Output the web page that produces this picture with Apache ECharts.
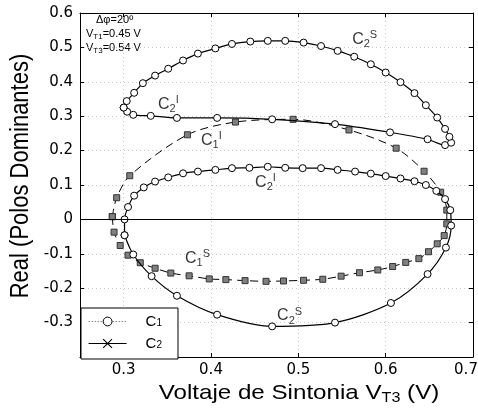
<!DOCTYPE html>
<html>
<head>
<meta charset="utf-8">
<script src="https://cdn.jsdelivr.net/npm/echarts@6/dist/echarts.min.js"></script>
<style>html,body{margin:0;padding:0;background:#fff}#c{width:478px;height:409px}</style>
</head>
<body>
<div id="c"></div>
<script>
// ---- data ----
// C2 upper loop (C2^I flat branch, then C2^S arc)
const c2UpperX = [0.300,0.304,0.311,0.331,0.361,0.407,0.470,0.542,0.605,0.648,0.668,0.675,0.673,0.668,0.659,0.646,0.633,0.617,0.600,0.583,0.564,0.545,0.526,0.506,0.485,0.465,0.445,0.424,0.405,0.385,0.368,0.351,0.336,0.322,0.312,0.3035,0.300];
const c2UpperY = [0.325,0.313,0.304,0.301,0.295,0.295,0.291,0.277,0.253,0.233,0.216,0.223,0.240,0.263,0.296,0.332,0.367,0.399,0.427,0.451,0.473,0.490,0.504,0.514,0.519,0.519,0.517,0.510,0.497,0.482,0.462,0.438,0.418,0.396,0.368,0.344,0.325];
// C2 lower loop (C2^I arc, then C2^S arc)
const c2LowerX = [0.301,0.301,0.305,0.312,0.323,0.336,0.351,0.368,0.385,0.405,0.424,0.444,0.465,0.485,0.505,0.526,0.545,0.565,0.583,0.600,0.617,0.633,0.646,0.658,0.668,0.674,0.675,0.669,0.648,0.606,0.542,0.470,0.407,0.361,0.332,0.311,0.301];
const c2LowerY = [-0.046,0.000,0.036,0.069,0.093,0.110,0.122,0.134,0.139,0.144,0.149,0.150,0.153,0.150,0.149,0.149,0.144,0.139,0.133,0.126,0.119,0.111,0.100,0.083,0.059,0.027,-0.018,-0.082,-0.159,-0.243,-0.300,-0.311,-0.277,-0.222,-0.165,-0.102,-0.046];
// C1 loop (C1^I upper branch, then C1^S lower branch)
const c1X = [0.287,0.292,0.307,0.373,0.428,0.494,0.558,0.612,0.644,0.663,0.670,0.670,0.667,0.659,0.649,0.638,0.623,0.608,0.591,0.570,0.549,0.528,0.506,0.483,0.463,0.439,0.417,0.398,0.375,0.354,0.336,0.319,0.305,0.296,0.289,0.287];
const c1Y = [0.008,0.063,0.127,0.246,0.283,0.291,0.260,0.207,0.140,0.079,0.027,-0.013,-0.047,-0.071,-0.094,-0.114,-0.125,-0.137,-0.147,-0.155,-0.165,-0.174,-0.177,-0.179,-0.180,-0.178,-0.175,-0.173,-0.164,-0.156,-0.142,-0.126,-0.104,-0.076,-0.037,0.008];
// tick labels
const xTicks = [0.3,0.4,0.5,0.6,0.7];
const legendNames = ['C1','C2'];
// curve annotations: [x, y, base, sub, sup]
const annoText = [
  [0.5616, 0.524, 'C','2','S'],
  [0.3393, 0.335, 'C','2','I'],
  [0.3886, 0.228, 'C','1','I'],
  [0.4505, 0.106, 'C','2','I'],
  [0.3703, -0.115, 'C','1','S'],
  [0.4757, -0.281, 'C','2','S']
];

const FONT = 'Liberation Sans, Arial, Helvetica, sans-serif';
const TICKFONT = 'DejaVu Sans, Verdana, sans-serif';
const zip = (xs, ys) => xs.map((x, i) => [x, ys[i]]);

const chart = echarts.init(document.getElementById('c'), null, {renderer: 'canvas'});

const circleStyle = {color:'#fff', borderColor:'#000', borderWidth:1};
const squareStyle = {color:'#808080', borderColor:'#333', borderWidth:1};

const annoRich = {
  c: {fontSize:16, lineHeight:20, fontFamily:FONT, color:'#000'},
  sub: {fontSize:11, lineHeight:11, verticalAlign:'bottom', fontFamily:FONT, color:'#000'},
  sup: {fontSize:11, lineHeight:11, verticalAlign:'top', fontFamily:FONT, color:'#000'}
};

const option = {
  animation: false,
  backgroundColor: '#fff',
  grid: {left:80, right:5, top:13, bottom:52, containLabel:false, outerBoundsMode:'none'},
  xAxis: [{
    type:'value', min:0.25, max:0.7, position:'bottom',
    axisLine:{show:true, onZero:false, lineStyle:{color:'#000', width:1}},
    axisTick:{show:true, inside:true, length:4, customValues:xTicks, lineStyle:{color:'#000'}},
    axisLabel:{show:true, customValues:xTicks, color:'#000', fontSize:15, fontFamily:TICKFONT, margin:6,
      formatter: v => Math.abs(v - 0.7) < 1e-9 ? '{r|0.7}' : v.toFixed(1),
      rich:{r:{fontSize:15, fontFamily:TICKFONT, color:'#000', padding:[0,14,0,0]}}},
    splitLine:{show:true, lineStyle:{color:'#c8c8c8', type:[1,3], width:1}}
  },{
    type:'value', min:0.25, max:0.7, position:'top',
    axisLine:{show:true, onZero:false, lineStyle:{color:'#000', width:1}},
    axisTick:{show:true, inside:true, length:4, customValues:xTicks, lineStyle:{color:'#000'}},
    axisLabel:{show:false}, splitLine:{show:false}
  }],
  yAxis: [{
    type:'value', min:-0.4, max:0.6, interval:0.1, position:'left',
    axisLine:{show:true, onZero:false, lineStyle:{color:'#000', width:1}},
    axisTick:{show:true, inside:true, length:4, lineStyle:{color:'#000'}},
    axisLabel:{color:'#000', fontSize:15, fontFamily:TICKFONT, margin:7,
      formatter: v => Math.abs(v + 0.4) < 1e-9 ? '' : (Math.abs(v) < 1e-9 ? '0' : v.toFixed(1))},
    splitLine:{show:true, lineStyle:{color:'#c8c8c8', type:[1,3], width:1}}
  },{
    type:'value', min:-0.4, max:0.6, interval:0.1, position:'right',
    axisLine:{show:true, onZero:false, lineStyle:{color:'#000', width:1}},
    axisTick:{show:true, inside:true, length:4, lineStyle:{color:'#000'}},
    axisLabel:{show:false}, splitLine:{show:false}
  }],
  legend: {
    left:81, top:308, orient:'vertical', selectedMode:false,
    backgroundColor:'#fff', borderColor:'#000', borderWidth:1,
    padding:[6,16,8,7], itemGap:7, itemWidth:38, itemHeight:11,
    data: [
      {name:legendNames[0], itemStyle:{color:'#fff', borderColor:'#000', borderWidth:1},
       lineStyle:{color:'#888', type:[1.5,1.5], width:1.2}},
      {name:legendNames[1], itemStyle:{color:'none', borderColor:'#000', borderWidth:1.1},
       lineStyle:{color:'#000', type:'solid', width:1}}
    ],
    formatter: n => '{c|C}{s|' + n.slice(1) + '}',
    textStyle:{rich:{
      c:{fontSize:15, fontFamily:FONT, color:'#000', lineHeight:14, padding:[0,0,0,14]},
      s:{fontSize:10, fontFamily:FONT, color:'#000', lineHeight:10, verticalAlign:'bottom'}
    }}
  },
  graphic: [
    {type:'text', left:96, top:14, style:{text:'\u0394\u03c6=20\u00ba', font:'11px ' + FONT, fill:'#000'}},
    {type:'text', left:86, top:28, style:{text:'{a|V}{b|T1}{a|=0.45 V}', rich:{
      a:{fontSize:11, fontFamily:FONT, fill:'#000', lineHeight:14},
      b:{fontSize:8, fontFamily:FONT, fill:'#000', lineHeight:8, verticalAlign:'bottom'}}}},
    {type:'text', left:86, top:42, style:{text:'{a|V}{b|T3}{a|=0.54 V}', rich:{
      a:{fontSize:11, fontFamily:FONT, fill:'#000', lineHeight:14},
      b:{fontSize:8, fontFamily:FONT, fill:'#000', lineHeight:8, verticalAlign:'bottom'}}}},
    // x axis title
    {type:'text', x:299, y:393, scaleX:1.15, style:{
      text:'{a|Voltaje de Sintonia V}{b|T3}{a| (V)}', align:'center', verticalAlign:'middle',
      rich:{
        a:{fontSize:21, fontFamily:FONT, fill:'#000', lineHeight:24},
        b:{fontSize:14, fontFamily:FONT, fill:'#000', lineHeight:14, verticalAlign:'bottom'}
      }}},
    // y axis title
    {type:'text', x:21, y:176, rotation:Math.PI/2, scaleY:1.2, style:{
      text:'Real (Polos Dominantes)', align:'center', verticalAlign:'middle',
      font:'22px ' + FONT, fill:'#000'}}
  ],
  series: [
    {name:'C1', type:'line', data:[], symbol:'circle', symbolSize:8,
     lineStyle:{type:'dotted', color:'#888', width:1.2}, itemStyle:{color:'#fff', borderColor:'#000', borderWidth:1}},
    {name:'C2', type:'line', data:[], symbol:'path://M0,0L10,10M0,10L10,0', symbolSize:8,
     lineStyle:{type:'solid', color:'#000', width:1}, itemStyle:{color:'none', borderColor:'#000', borderWidth:1}},
    {name:'c1loop', type:'line', data:zip(c1X, c1Y), smooth:0.3, symbol:'rect', symbolSize:6,
     lineStyle:{type:[8,5], color:'#000', width:1}, itemStyle:squareStyle, z:3,
     markLine:{silent:true, symbol:'none', label:{show:false}, lineStyle:{color:'#000', type:'solid', width:1.2}, data:[{yAxis:0}]}},
    {name:'c2upper', type:'line', data:zip(c2UpperX, c2UpperY), smooth:0.3, symbol:'circle', symbolSize:7,
     lineStyle:{type:'solid', color:'#000', width:1.2}, itemStyle:circleStyle, z:4},
    {name:'c2lower', type:'line', data:zip(c2LowerX, c2LowerY), smooth:0.3, symbol:'circle', symbolSize:7,
     lineStyle:{type:'solid', color:'#000', width:1.2}, itemStyle:circleStyle, z:4},
    {name:'anno', type:'scatter', symbolSize:0, silent:true, z:6,
     data: annoText.map(a => ({value:[a[0], a[1]], t:a})),
     label:{show:true, position:[0,0], align:'left', verticalAlign:'middle',
       formatter: p => '{c|' + p.data.t[2] + '}{sub|' + p.data.t[3] + '}{sup|' + p.data.t[4] + '}',
       rich: annoRich}}
  ]
};
chart.setOption(option);
</script>
</body>
</html>
